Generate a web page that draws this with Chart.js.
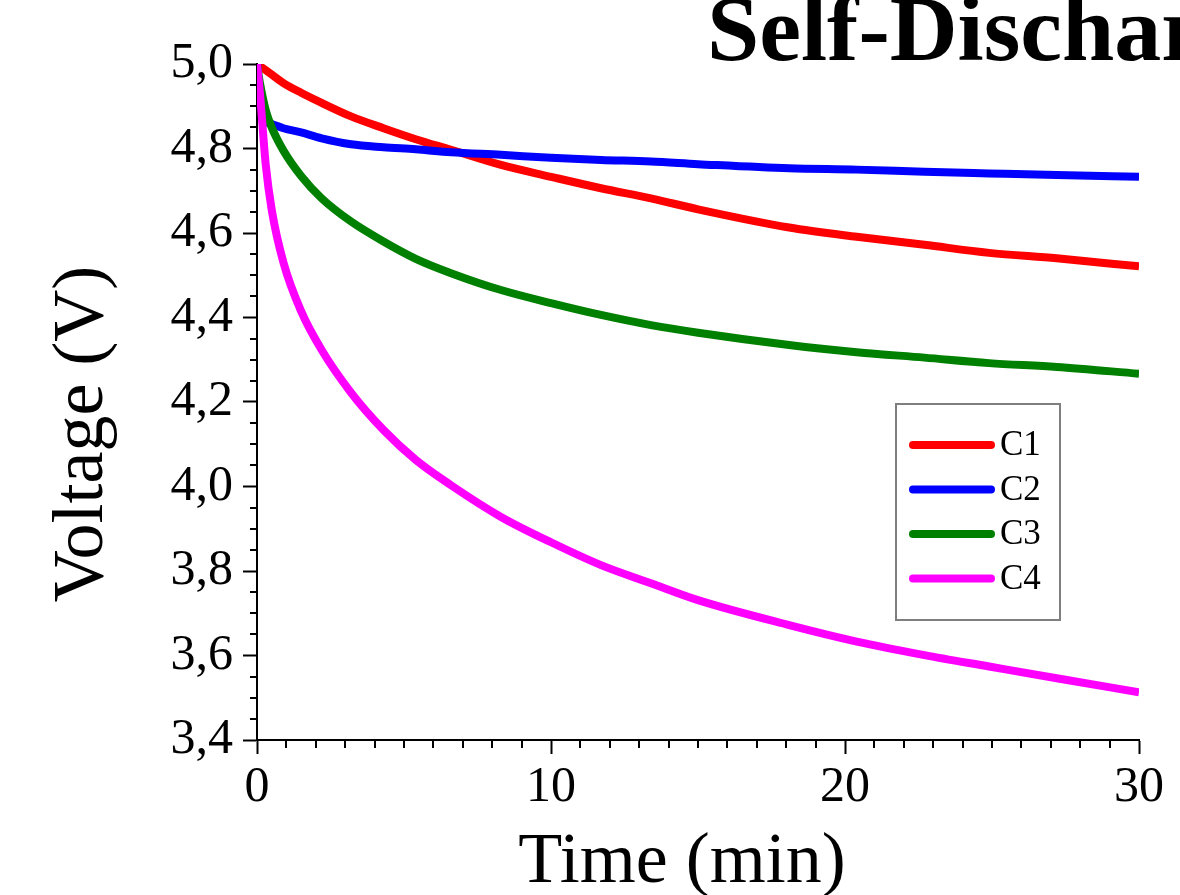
<!DOCTYPE html>
<html>
<head>
<meta charset="utf-8">
<script src="https://cdn.jsdelivr.net/npm/chart.js@4/dist/chart.umd.min.js"></script>
<style>
  html, body { margin: 0; padding: 0; background: #fff; }
  #wrap { width: 1180px; height: 895px; position: relative; }
</style>
</head>
<body>
<div id="wrap"><canvas id="chart"></canvas></div>
<script>
// time in minutes
const times = [0, 0.1, 0.3, 0.5, 0.9, 1.5, 2.2, 3.2, 4.3, 5.4, 6.6, 8.3, 10, 11.7, 13.4, 15, 18.1, 20.4, 22.7, 24.9, 27.2, 30];

const seriesNames = ['C1', 'C2', 'C3', 'C4'];
const seriesColors = ['#ff0000', '#0000ff', '#008000', '#ff00ff'];

// voltage (V)
const c1 = [5.0, 4.995, 4.985, 4.975, 4.955, 4.932, 4.908, 4.876, 4.848, 4.822, 4.797, 4.761, 4.733, 4.706, 4.682, 4.656, 4.613, 4.591, 4.572, 4.553, 4.540, 4.521];
const c2 = [5.0, 4.92, 4.866, 4.858, 4.848, 4.838, 4.824, 4.810, 4.803, 4.798, 4.791, 4.785, 4.778, 4.773, 4.769, 4.763, 4.753, 4.750, 4.745, 4.741, 4.737, 4.733];
const c3 = [5.0, 4.955, 4.89, 4.85, 4.795, 4.735, 4.682, 4.627, 4.580, 4.539, 4.505, 4.465, 4.434, 4.406, 4.382, 4.364, 4.335, 4.318, 4.305, 4.292, 4.283, 4.267];
const c4 = [5.0, 4.93, 4.76, 4.655, 4.53, 4.415, 4.323, 4.222, 4.134, 4.063, 4.003, 3.928, 3.868, 3.814, 3.771, 3.731, 3.672, 3.633, 3.601, 3.574, 3.546, 3.513];

const xTicks = [0, 10, 20, 30];
const yTicks = [3.4, 3.6, 3.8, 4.0, 4.2, 4.4, 4.6, 4.8, 5.0];

const allSeries = [c1, c2, c3, c4];
const FONT = '"Liberation Serif", "Times New Roman", serif';

function toPoints(vals) {
    return vals.map((v, i) => ({ x: times[i], y: v }));
}

// minor ticks, titles and the boxed legend
const decorations = {
    id: 'decorations',
    afterDraw(chart) {
        const ctx = chart.ctx;
        const xs = chart.scales.x;
        const ys = chart.scales.y;
        const area = chart.chartArea;
        ctx.save();
        ctx.strokeStyle = '#000';
        ctx.lineWidth = 2;
        ctx.beginPath();
        for (let t = 1; t < 30; t++) {
            if (t % 10 === 0) continue;
            const px = Math.round(xs.getPixelForValue(t));
            ctx.moveTo(px, area.bottom);
            ctx.lineTo(px, area.bottom + 8);
        }
        for (let k = 1; k < 32; k++) {
            if (k % 4 === 0) continue;
            const py = Math.round(ys.getPixelForValue(3.4 + k * 0.05));
            ctx.moveTo(area.left - 7, py);
            ctx.lineTo(area.left, py);
        }
        ctx.stroke();

        ctx.fillStyle = '#000';
        // chart title, cut by the right edge
        ctx.font = 'bold 94px ' + FONT;
        ctx.textAlign = 'left';
        ctx.textBaseline = 'alphabetic';
        ctx.fillText('Self-Discharge', 707, 60);

        // axis titles
        ctx.font = '72px ' + FONT;
        ctx.textAlign = 'center';
        ctx.fillText('Time (min)', 682, 882);
        ctx.save();
        ctx.translate(102, 434);
        ctx.rotate(-Math.PI / 2);
        ctx.fillText('Voltage (V)', 0, 0);
        ctx.restore();

        // legend
        ctx.strokeStyle = '#7f7f7f';
        ctx.lineWidth = 2;
        ctx.strokeRect(896, 404, 164, 216);
        ctx.font = '35px ' + FONT;
        ctx.textAlign = 'left';
        ctx.textBaseline = 'middle';
        chart.data.datasets.forEach((ds, i) => {
            const ly = 445 + i * 44.5;
            ctx.strokeStyle = ds.borderColor;
            ctx.lineWidth = 8;
            ctx.lineCap = 'round';
            ctx.beginPath();
            ctx.moveTo(913, ly);
            ctx.lineTo(991, ly);
            ctx.stroke();
            ctx.fillText(ds.label, 1000, ly + 1);
        });
        ctx.restore();
    }
};

new Chart(document.getElementById('chart'), {
    type: 'line',
    data: {
        datasets: seriesNames.map((name, i) => ({
            label: name,
            data: toPoints(allSeries[i]),
            borderColor: seriesColors[i],
            backgroundColor: seriesColors[i],
            borderWidth: 8,
            pointRadius: 0,
            cubicInterpolationMode: 'monotone',
            borderJoinStyle: 'round',
            order: seriesNames.length - i
        }))
    },
    options: {
        responsive: true,
        maintainAspectRatio: false,
        animation: false,
        layout: { padding: { top: 64, right: 41, left: 0, bottom: 0 } },
        plugins: {
            legend: { display: false },
            title: { display: false },
            tooltip: { enabled: false }
        },
        scales: {
            x: {
                type: 'linear',
                min: 0,
                max: 30,
                afterFit(scale) { scale.height = 155; },
                afterBuildTicks(scale) { scale.ticks = xTicks.map(v => ({ value: v })); },
                ticks: {
                    color: '#000',
                    padding: 4,
                    font: { family: FONT, size: 50 },
                    maxRotation: 0,
                    callback: v => String(v)
                },
                grid: { drawOnChartArea: false, tickLength: 14, tickWidth: 2, tickColor: '#000' },
                border: { color: '#000', width: 2 }
            },
            y: {
                min: 3.4,
                max: 5.0,
                afterFit(scale) { scale.width = 257; },
                afterBuildTicks(scale) { scale.ticks = yTicks.map(v => ({ value: v })); },
                ticks: {
                    color: '#000',
                    padding: 10,
                    font: { family: FONT, size: 50 },
                    callback: v => v.toFixed(1).replace('.', ',')
                },
                grid: { drawOnChartArea: false, tickLength: 14, tickWidth: 2, tickColor: '#000' },
                border: { color: '#000', width: 2 }
            }
        }
    },
    plugins: [decorations]
});
</script>
</body>
</html>
